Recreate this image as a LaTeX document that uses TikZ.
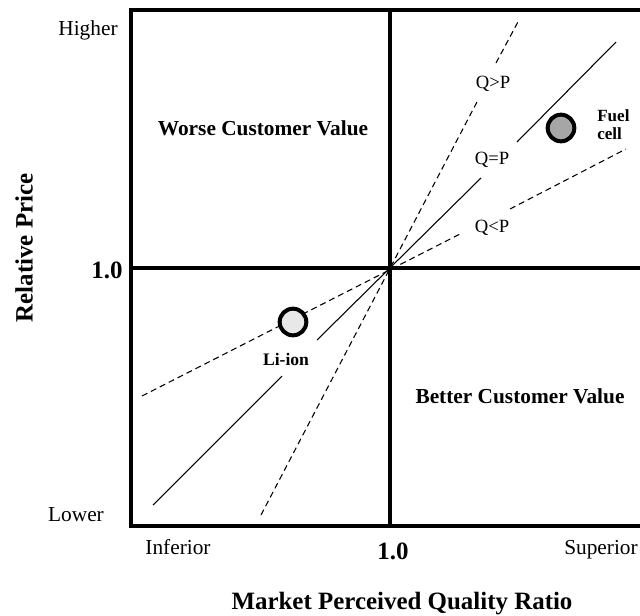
\documentclass[tikz,border=0pt]{standalone}
\usepackage{fontspec}
\setmainfont{Liberation Serif}
\begin{document}
\begin{tikzpicture}[x=0.75pt,y=-0.75pt,
  frame/.style={line width=3pt,line cap=rect},
  solidln/.style={line width=0.8pt},
  dashln/.style={line width=0.8pt,dash pattern=on 4.5pt off 3pt},
  lbl/.style={inner sep=0pt,font=\fontsize{16}{18}\selectfont},
  qlbl/.style={inner sep=0pt,font=\fontsize{14}{16}\selectfont},
  quad/.style={inner sep=0pt,font=\fontsize{16}{18}\selectfont\bfseries},
  title/.style={inner sep=0pt,font=\fontsize{18.7}{20}\selectfont\bfseries},
  dot/.style={circle,draw,line width=3pt,minimum size=20pt,inner sep=0pt}]
\useasboundingbox (0,0) rectangle (640,615);
\clip (0,0) rectangle (640,615);
% frame and axes
\coordinate (TL) at (131,10);
\coordinate (TR) at (650,10);
\coordinate (BL) at (131,526);
\coordinate (BR) at (650,526);
\coordinate (O) at (390,268);
\coordinate (VT) at (390,10);
\coordinate (VB) at (390,526);
\coordinate (HL) at (131,268);
\coordinate (HR) at (650,268);
\draw[frame] (TR) -- (TL) -- (BL) -- (BR);
\draw[frame] (VT) -- (VB);
\draw[frame] (HL) -- (HR);
% Q=P line
\coordinate (e1) at (153,505);
\coordinate (e1a) at (282,376);
\coordinate (e1b) at (317,340);
\coordinate (e1c) at (481,178);
\coordinate (e1d) at (517,142);
\coordinate (e1e) at (616,42);
\draw[solidln] (e1) -- (e1a);
\draw[solidln] (e1b) -- (e1c);
\draw[solidln] (e1d) -- (e1e);
% Q>P line
\coordinate (g1) at (261,515);
\coordinate (g1a) at (478,100);
\coordinate (g1b) at (496,63);
\coordinate (g1c) at (519,20);
\draw[dashln] (g1) -- (g1a);
\draw[dashln] (g1b) -- (g1c);
% Q<P line
\coordinate (l1) at (142,396);
\coordinate (l1a) at (462,233);
\coordinate (l1b) at (510,209);
\coordinate (l1c) at (626,149);
\draw[dashln] (l1) -- (l1a);
\draw[dashln] (l1b) -- (l1c);
% line labels
\node[qlbl] (qgp) at (493,84) {Q>P};
\node[qlbl] (qep) at (492,160) {Q=P};
\node[qlbl] (qlp) at (492,228) {Q<P};
% points
\node[dot,fill=black!9] (li) at (293,322) {};
\node[inner sep=0pt,font=\fontsize{13.2}{15}\selectfont\bfseries] (lilbl) at (286,359) {Li-ion};
\node[dot,fill=black!35] (fc) at (561,128) {};
\node[inner sep=0pt,font=\fontsize{12.8}{13.5}\selectfont\bfseries,align=left,anchor=west] (fclbl) at (597,125) {Fuel\\cell};
% quadrant labels
\node[quad] (worse) at (263,128) {Worse Customer Value};
\node[quad] (better) at (520,396) {Better Customer Value};
% axis labels
\node[lbl] (higher) at (88,30) {Higher};
\node[lbl] (lower) at (76,515) {Lower};
\node[title] (one1) at (107,270) {1.0};
\node[lbl,anchor=base] (inferior) at (178,554) {Inferior};
\node[lbl,anchor=base] (superior) at (601,554) {Superior};
\node[title] (one2) at (393,551) {1.0};
\node[title,rotate=90] (yt) at (24,248) {Relative Price};
\node[title] (xt) at (402,604) {Market Perceived Quality Ratio};
\end{tikzpicture}
\end{document}
